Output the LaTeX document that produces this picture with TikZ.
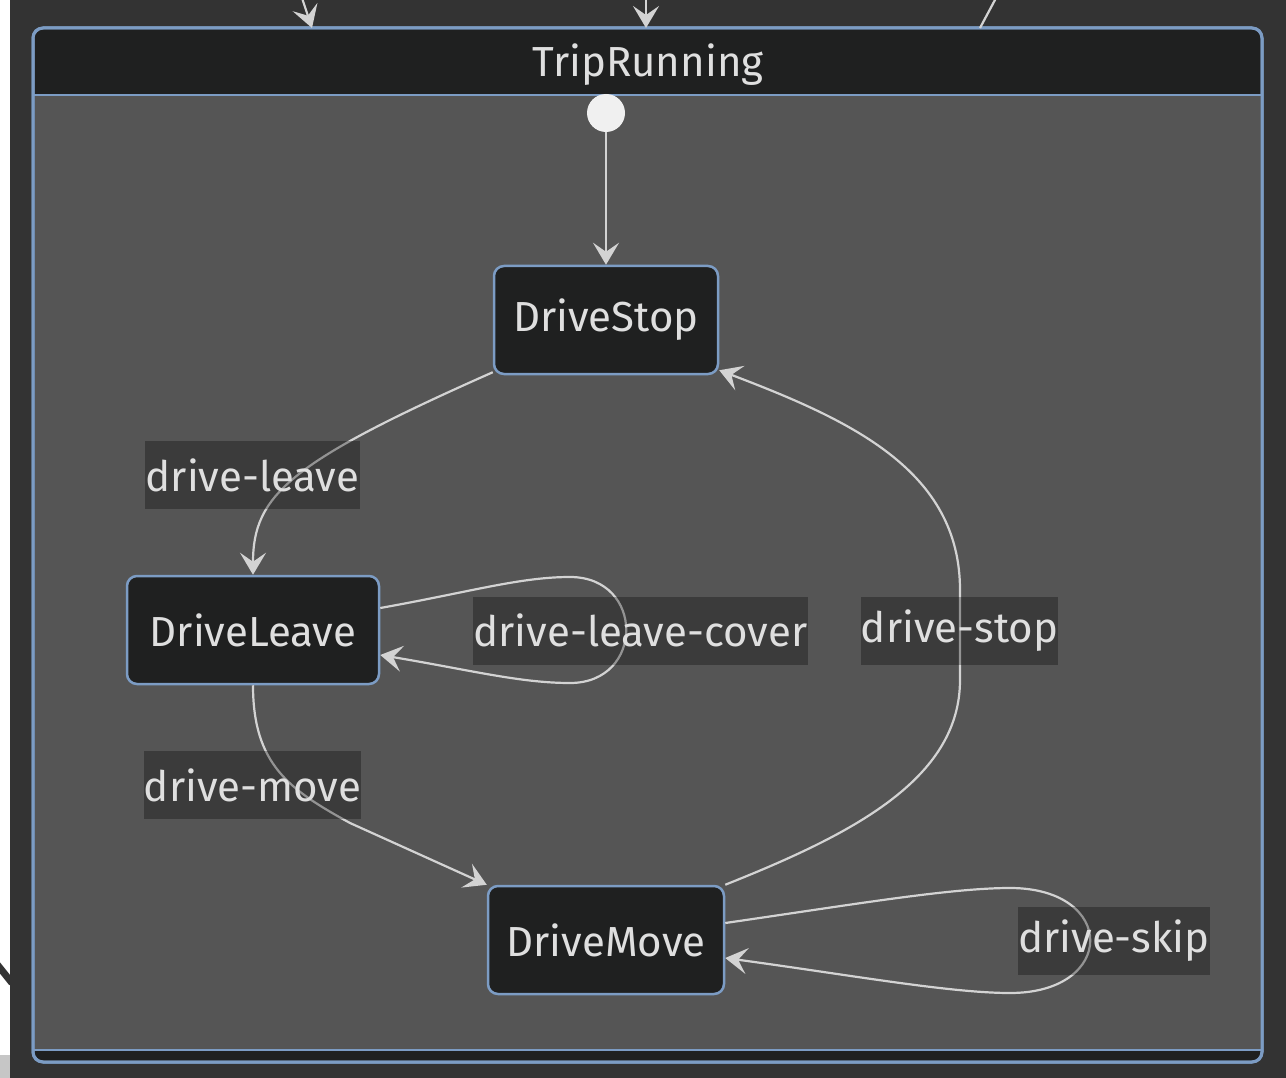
\documentclass[tikz,border=0pt]{standalone}
\usepackage{fontspec}
\setmainfont{Fira Sans}
\usetikzlibrary{arrows.meta}
\definecolor{bgdark}{HTML}{333333}
\definecolor{bodyc}{HTML}{555555}
\definecolor{hdr}{HTML}{1F2020}
\definecolor{bord}{HTML}{7C9CC4}
\definecolor{edgec}{HTML}{D3D3D3}
\definecolor{txt}{HTML}{DFDFDF}
\definecolor{initc}{HTML}{F0F0F0}
\begin{document}
\begin{tikzpicture}[x=1pt,y=-1pt,
  bigfont/.style={font=\fontsize{42}{42}\selectfont},
  statebox/.style={draw=bord, line width=2.5pt, fill=hdr, rounded corners=10pt, text=txt, bigfont, inner sep=0pt, minimum height=108pt},
  lbl/.style={fill=black, fill opacity=0.3, text opacity=1, text=txt, bigfont, inner sep=0pt, minimum height=68pt},
  tr/.style={draw=edgec, line width=2.2pt, -{Stealth[length=22pt,width=26pt,inset=9pt]}},
  plain/.style={draw=edgec, line width=2.2pt},
]
\useasboundingbox (0,0) rectangle (1286,1078);
% backgrounds
\fill[white] (0,0) rectangle (1286,1078);
\fill[bgdark] (10,0) rectangle (1286,1078);
\fill[gray!45] (0,1055) rectangle (10,1078);
\draw[bgdark, line width=7pt] (-4,963) -- (12,983);

% container
\draw[bord, line width=3pt, fill=hdr, rounded corners=10pt] (33,28) rectangle (1262,1062);
\fill[bodyc] (34.5,95) rectangle (1260.5,1050);
\draw[bord, line width=2.5pt] (33,95) -- (1262,95);
\draw[bord, line width=2.5pt] (33,1050) -- (1262,1050);
\draw[bord, line width=3pt, rounded corners=10pt] (33,28) rectangle (1262,1062);
\node[text=txt, bigfont] (title) at (648,65) {TripRunning};

% incoming edges from above (free ends)
\coordinate (in1) at (302,-2);
\coordinate (in1e) at (312,28);
\coordinate (in2) at (646,-2);
\coordinate (in2e) at (646,28);
\coordinate (out3) at (996,-2);
\coordinate (out3s) at (980,28);
\draw[tr] (in1) -- (in1e);
\draw[tr] (in2) -- (in2e);
\draw[plain] (out3s) -- (out3);

% states
\node[circle, fill=initc, minimum size=38pt, inner sep=0pt] (init) at (606,113) {};
\node[statebox, minimum width=224pt] (ds) at (606,320) {\raisebox{-2pt}{DriveStop}};
\node[statebox, minimum width=252pt] (dl) at (253,630) {\raisebox{-2pt}{DriveLeave}};
\node[statebox, minimum width=236pt] (dm) at (606,940) {\raisebox{-2pt}{DriveMove}};

% transitions
\draw[tr] (init) -- (ds.north);
\draw[tr] ([yshift=3pt]ds.south west) .. controls (290,462) and (253,495) .. (dl.north);
\draw[tr] (dl.south) .. controls (253,765) and (290,790) .. (350,823) -- (dm.north west);
\draw[tr] (dm.north east) .. controls (850,835) and (960,780) .. (960,680) -- (960,590) .. controls (960,470) and (850,420) .. ([yshift=5pt]ds.south east);
\draw[tr] ([yshift=22pt]dl.east) .. controls (470,592) and (520,577) .. (570,577) .. controls (645,577) and (645,683) .. (570,683) .. controls (520,683) and (470,670) .. ([yshift=-25pt]dl.east);
\draw[tr] ([yshift=17pt]dm.east) .. controls (850,905) and (950,888) .. (1010,888) .. controls (1117,888) and (1117,993) .. (1010,993) .. controls (950,993) and (850,975) .. ([yshift=-18pt]dm.east);

% labels
\node[lbl, minimum width=215pt] (l1) at (252.5,475) {drive-leave};
\node[lbl, minimum width=335pt] (l2) at (640.5,630.5) {drive-leave-cover};
\node[lbl, minimum width=193pt] (l3) at (959.5,630.5) {drive-stop};
\node[lbl, minimum width=215pt] (l4) at (252.5,785) {drive-move};
\node[lbl, minimum width=188pt] (l5) at (1114,940.5) {drive-skip};
\end{tikzpicture}
\end{document}
